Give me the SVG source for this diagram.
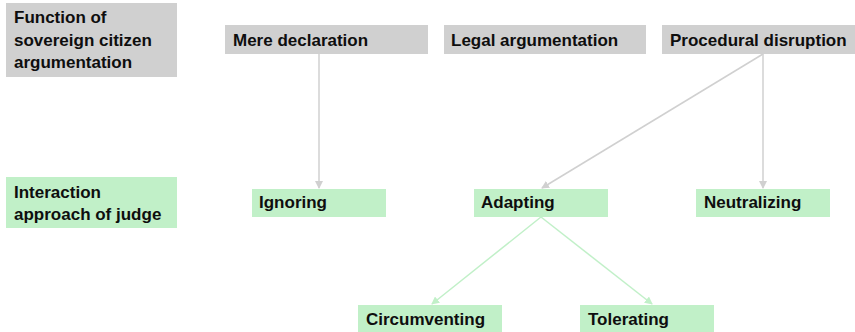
<svg xmlns="http://www.w3.org/2000/svg" width="855" height="332" viewBox="0 0 855 332">
<style>
.g{fill:#d0d0d0}
.n{fill:#c1f0c8}
text{font-family:"Liberation Sans",Arial,sans-serif;font-weight:bold;font-size:17px;fill:#0e0e0e}
.cg{stroke:#d0d0d0;stroke-width:1.5;fill:none}
.cn{stroke:#c1f0c8;stroke-width:1.5;fill:none}
</style>
<defs>
<marker id="ag" markerWidth="8" markerHeight="8" refX="7" refY="4" orient="auto" markerUnits="userSpaceOnUse"><path d="M0,0 L8,4 L0,8 z" fill="#d0d0d0"/></marker>
<marker id="an" markerWidth="8" markerHeight="8" refX="7" refY="4" orient="auto" markerUnits="userSpaceOnUse"><path d="M0,0 L8,4 L0,8 z" fill="#c1f0c8"/></marker>
</defs>
<g id="connectors">
<line class="cg" x1="319" y1="54" x2="319" y2="188" marker-end="url(#ag)"/>
<line class="cg" x1="763" y1="54" x2="542" y2="188" marker-end="url(#ag)"/>
<line class="cg" x1="763" y1="54" x2="763" y2="188" marker-end="url(#ag)"/>
<line class="cn" x1="541" y1="217" x2="432" y2="304" marker-end="url(#an)"/>
<line class="cn" x1="541" y1="217" x2="652" y2="304" marker-end="url(#an)"/>
</g>
<g id="label-function"><rect class="g" x="6" y="3" width="171" height="74"/><text x="14" y="23">Function of</text><text x="14" y="46">sovereign citizen</text><text x="14" y="68">argumentation</text></g>
<g id="mere-declaration"><rect class="g" x="225" y="25" width="203" height="29"/><text x="233" y="46">Mere declaration</text></g>
<g id="legal-argumentation"><rect class="g" x="444" y="25" width="202" height="29"/><text x="451" y="46">Legal argumentation</text></g>
<g id="procedural-disruption"><rect class="g" x="662" y="25" width="193" height="29"/><text x="670" y="46">Procedural disruption</text></g>
<g id="label-interaction"><rect class="n" x="6" y="177" width="171" height="51"/><text x="14" y="198">Interaction</text><text x="14" y="220">approach of judge</text></g>
<g id="ignoring"><rect class="n" x="252" y="189" width="134" height="28"/><text x="259" y="208">Ignoring</text></g>
<g id="adapting"><rect class="n" x="474" y="189" width="134" height="28"/><text x="481" y="208">Adapting</text></g>
<g id="neutralizing"><rect class="n" x="696" y="189" width="134" height="28"/><text x="704" y="208">Neutralizing</text></g>
<g id="circumventing"><rect class="n" x="358" y="305" width="144" height="27"/><text x="366" y="325">Circumventing</text></g>
<g id="tolerating"><rect class="n" x="580" y="305" width="134" height="27"/><text x="588" y="325">Tolerating</text></g>
</svg>
